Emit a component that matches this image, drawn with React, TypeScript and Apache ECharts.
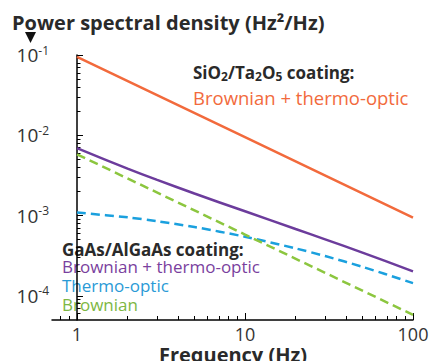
import React, { useEffect, useRef } from "react";
import * as echarts from "echarts";

// ---- data ----
const FREQ_LINE = [1, 10, 100];
const SIO_TOTAL = [0.095, 0.0095, 0.00094]; // SiO2/Ta2O5 Brownian + thermo-optic
const GAAS_BROWNIAN = [0.0058, 0.00058, 0.000058]; // GaAs/AlGaAs Brownian

const FREQ_CURVE = [1, 2, 3, 5, 10, 20, 30, 50, 100];
const GAAS_THERMO = [1.09e-3, 9.5e-4, 8.5e-4, 7.2e-4, 5.45e-4, 3.9e-4, 3.13e-4, 2.3e-4, 1.44e-4];
const GAAS_TOTAL = [6.9e-3, 3.85e-3, 2.78e-3, 1.88e-3, 1.13e-3, 6.8e-4, 5.06e-4, 3.46e-4, 2.02e-4];

const X_MAJOR = [1, 10, 100];
const X_MINOR = [0.8, 0.9, 2, 3, 4, 5, 6, 7, 8, 9, 20, 30, 40, 50, 60, 70, 80, 90];
const Y_MAJOR = [1e-4, 1e-3, 1e-2, 1e-1];
const Y_MINOR = [
  6e-5, 7e-5, 8e-5, 9e-5,
  2e-4, 3e-4, 4e-4, 5e-4, 6e-4, 7e-4, 8e-4, 9e-4,
  2e-3, 3e-3, 4e-3, 5e-3, 6e-3, 7e-3, 8e-3, 9e-3,
  2e-2, 3e-2, 4e-2, 5e-2, 6e-2, 7e-2, 8e-2, 9e-2,
];
const X_RANGE = [0.71, 100];
const Y_RANGE = [5e-5, 0.1];

const FONT = "'Open Sans', 'Noto Sans', sans-serif";
const C_ORANGE = "#f26a3c";
const C_PURPLE = "#6c3c9c";
const C_BLUE = "#1aa0de";
const C_GREEN = "#8cc63f";
const C_TEXT = "#2a2a2a";

const lg = (v: number) => Math.log10(v);
const pairs = (xs: number[], ys: number[]) => xs.map((x, i) => [lg(x), lg(ys[i])]);

const label = (x: number, y: number, text: string, fill: string, size: number, bold = false, align = "left") => ({
  type: "text",
  x,
  y,
  style: {
    text,
    fontSize: size,
    fontWeight: bold ? "bold" : "normal",
    fontFamily: FONT,
    fill,
    lineHeight: 17,
    textAlign: align,
    textVerticalAlign: "middle",
  },
});

export default function App() {
  const ref = useRef<HTMLDivElement>(null);
  useEffect(() => {
    if (!ref.current) return;
    const chart = echarts.init(ref.current, null, { renderer: "svg" });
    const xMin = lg(X_RANGE[0]);
    const xMax = lg(X_RANGE[1]);
    const yMin = lg(Y_RANGE[0]);
    const yMax = lg(Y_RANGE[1]);
    const axisBase = {
      type: "value" as const,
      splitLine: { show: false },
    };
    const option: any = {
      animation: false,
      backgroundColor: "#ffffff",
      grid: { left: 52, right: 20, top: 55, bottom: 41, containLabel: false },
      xAxis: [
        {
          ...axisBase,
          position: "bottom",
          min: xMin,
          max: xMax,
          axisLine: { show: true, lineStyle: { color: "#000", width: 1.5 } },
          axisTick: {
            show: true,
            inside: true,
            length: 7,
            lineStyle: { color: "#000", width: 1 },
            customValues: X_MAJOR.map(lg),
          },
          axisLabel: {
            show: true,
            customValues: X_MAJOR.map(lg),
            formatter: (v: number) => String(Math.round(Math.pow(10, v))),
            fontSize: 18,
            fontFamily: FONT,
            color: "#333",
            margin: 5,
          },
        },
        {
          ...axisBase,
          position: "bottom",
          min: xMin,
          max: xMax,
          axisLine: { show: false },
          axisLabel: { show: false },
          axisTick: {
            show: true,
            inside: true,
            length: 4,
            lineStyle: { color: "#000", width: 1 },
            customValues: X_MINOR.map(lg),
          },
        },
      ],
      yAxis: [
        {
          ...axisBase,
          position: "left",
          min: yMin,
          max: yMax,
          axisLine: { show: true, lineStyle: { color: "#000", width: 1.5 } },
          axisTick: {
            show: true,
            inside: true,
            length: 6,
            lineStyle: { color: "#000", width: 1 },
            customValues: Y_MAJOR.map(lg),
          },
          axisLabel: {
            show: true,
            customValues: Y_MAJOR.map(lg),
            formatter: (v: number) => `{b|10}{s|${Math.round(v)}}`,
            margin: 3,
            rich: {
              b: { fontSize: 19, fontFamily: FONT, color: "#333", lineHeight: 22 },
              s: { fontSize: 12, fontFamily: FONT, color: "#333", lineHeight: 14, verticalAlign: "top" },
            },
          },
        },
        {
          ...axisBase,
          position: "left",
          min: yMin,
          max: yMax,
          axisLine: { show: false },
          axisLabel: { show: false },
          axisTick: {
            show: true,
            inside: true,
            length: 3.5,
            lineStyle: { color: "#000", width: 1 },
            customValues: Y_MINOR.map(lg),
          },
        },
      ],
      series: [
        {
          name: "SiO2/Ta2O5 Brownian + thermo-optic",
          type: "line",
          data: pairs(FREQ_LINE, SIO_TOTAL),
          showSymbol: false,
          symbol: "none",
          lineStyle: { color: C_ORANGE, width: 2.5 },
        },
        {
          name: "GaAs/AlGaAs Brownian + thermo-optic",
          type: "line",
          data: pairs(FREQ_CURVE, GAAS_TOTAL),
          showSymbol: false,
          symbol: "none",
          smooth: 0.3,
          lineStyle: { color: C_PURPLE, width: 2.5 },
        },
        {
          name: "GaAs/AlGaAs Thermo-optic",
          type: "line",
          data: pairs(FREQ_CURVE, GAAS_THERMO),
          showSymbol: false,
          symbol: "none",
          smooth: 0.3,
          lineStyle: { color: C_BLUE, width: 2.5, type: [9, 5] },
        },
        {
          name: "GaAs/AlGaAs Brownian",
          type: "line",
          data: pairs(FREQ_LINE, GAAS_BROWNIAN),
          showSymbol: false,
          symbol: "none",
          lineStyle: { color: C_GREEN, width: 2.5, type: [9, 5] },
        },
      ],
      graphic: [
        {
          type: "text",
          x: 12,
          y: 22.5,
          style: {
            text: "Power spectral density (Hz²/Hz)",
            fontSize: 20,
            fontWeight: "bold",
            fontFamily: FONT,
            fill: C_TEXT,
            textAlign: "left",
            textVerticalAlign: "middle",
          },
        },
        {
          type: "polygon",
          shape: { points: [[25, 32], [36, 32], [30.5, 43]] },
          style: { fill: "#111" },
        },
        {
          type: "text",
          x: 193,
          y: 72,
          style: {
            text: "{a|SiO}{u|2}{a|/Ta}{u|2}{a|O}{u|5}{a| coating:}",
            textAlign: "left",
            textVerticalAlign: "middle",
            rich: {
              a: { fontSize: 17, fontWeight: "bold", fontFamily: FONT, fill: C_TEXT, lineHeight: 20 },
              u: { fontSize: 12, fontWeight: "bold", fontFamily: FONT, fill: C_TEXT, lineHeight: 13, verticalAlign: "bottom" },
            },
          },
        },
        label(193, 97.5, "Brownian + thermo-optic", C_ORANGE, 18.5),
        label(62, 249, "GaAs/AlGaAs coating:", C_TEXT, 17, true),
        label(62, 266.5, "Brownian + thermo-optic", "#7a3f9e", 17),
        label(62, 285, "Thermo-optic", "#2a9ad6", 17),
        label(62, 304, "Brownian", "#7db743", 17),
        {
          type: "text",
          x: 233,
          y: 354,
          style: {
            text: "Frequency (Hz)",
            fontSize: 20,
            fontWeight: "bold",
            fontFamily: FONT,
            fill: C_TEXT,
            lineHeight: 14,
            textAlign: "center",
            textVerticalAlign: "middle",
          },
        },
      ],
    };
    chart.setOption(option);
    return () => chart.dispose();
  }, []);
  return (
    <div
      ref={ref}
      style={{ position: "fixed", left: 0, top: 0, width: 433, height: 361, background: "#fff" }}
    />
  );
}
